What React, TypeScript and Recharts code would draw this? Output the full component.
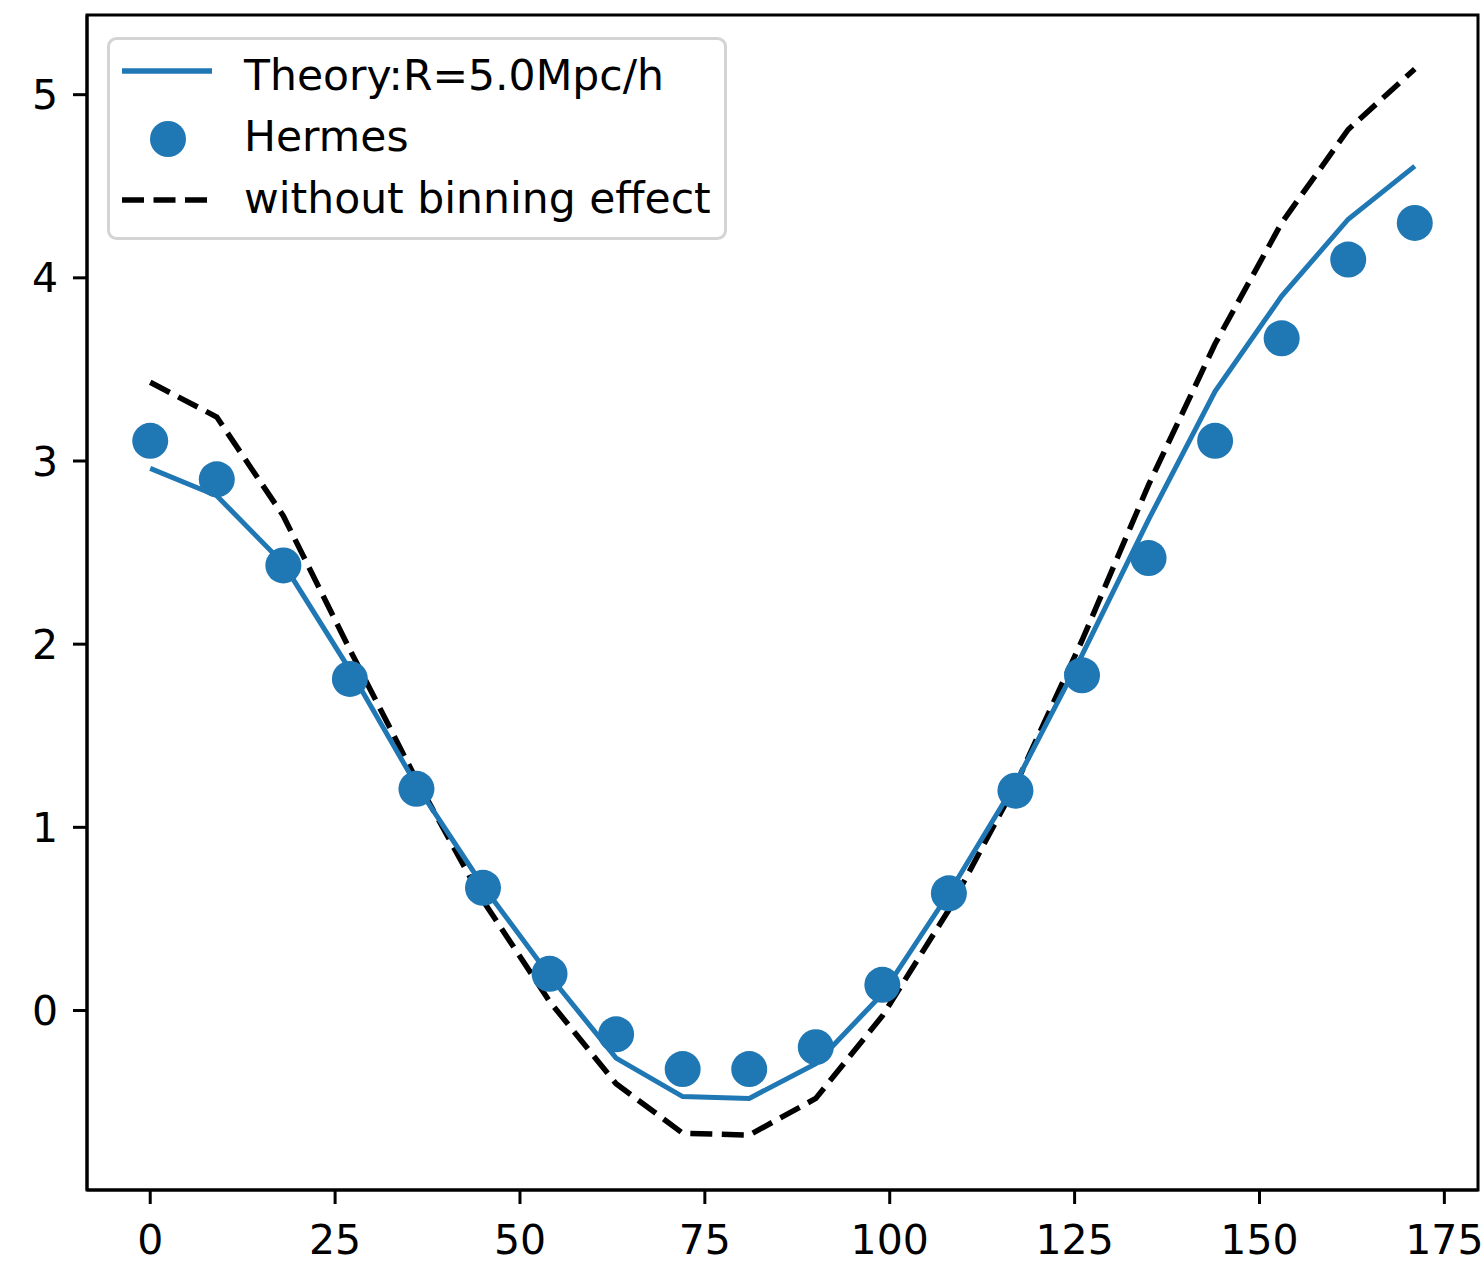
import { ComposedChart, Line, Scatter, XAxis, YAxis, ReferenceArea, Legend } from 'recharts';

const xValues = [0, 9, 18, 27, 36, 45, 54, 63, 72, 81, 90, 99, 108, 117, 126, 135, 144, 153, 162, 171];
const hermes = [3.11, 2.9, 2.43, 1.81, 1.21, 0.67, 0.2, -0.13, -0.32, -0.32, -0.2, 0.14, 0.64, 1.2, 1.83, 2.47, 3.11, 3.67, 4.1, 4.3];
const theory = [2.96, 2.81, 2.44, 1.86, 1.23, 0.68, 0.19, -0.26, -0.47, -0.48, -0.29, 0.09, 0.64, 1.24, 1.94, 2.68, 3.38, 3.9, 4.32, 4.61];
const noBinning = [3.43, 3.24, 2.7, 1.97, 1.26, 0.6, 0.05, -0.4, -0.67, -0.68, -0.48, -0.03, 0.55, 1.23, 2.02, 2.87, 3.64, 4.3, 4.81, 5.14];

const xTicks = [0, 25, 50, 75, 100, 125, 150, 175];
const yTicks = [0, 1, 2, 3, 4, 5];
const xDomain: [number, number] = [-8.55, 179.55];
const yDomain: [number, number] = [-0.98, 5.435];

const labels = {
  theory: 'Theory:R=5.0Mpc/h',
  hermes: 'Hermes',
  noBin: 'without binning effect',
};

const BLUE = '#1f77b4';
const FONT = '"DejaVu Sans", sans-serif';

const rows = xValues.map((x, i) => ({
  x,
  theory: theory[i],
  hermes: hermes[i],
  noBin: noBinning[i],
}));

function LegendBox() {
  return (
    <svg width={622} height={206} style={{ display: 'block', overflow: 'visible' }}>
      <rect x={1.5} y={1.5} width={617} height={200} rx={8} fill="#fff" fillOpacity={0.8} stroke="#d4d4d4" strokeWidth={3} />
      <line x1={15} x2={105} y1={34} y2={34} stroke={BLUE} strokeWidth={5.5} />
      <circle cx={61} cy={102} r={18} fill={BLUE} />
      <line x1={15} x2={105} y1={163} y2={163} stroke="#000" strokeWidth={5.5} strokeDasharray="22 9.5" />
      <g fontFamily={FONT} fontSize={42.5} fill="#000">
        <text x={137} y={53}>{labels.theory}</text>
        <text x={137} y={114}>{labels.hermes}</text>
        <text x={137} y={176}>{labels.noBin}</text>
      </g>
    </svg>
  );
}

const dot = (p: any) => <circle cx={p.cx} cy={p.cy} r={18} fill={BLUE} />;

export default function App() {
  const tickStyle = { fontFamily: FONT, fontSize: 41, fill: '#000' };
  return (
    <div style={{ position: 'absolute', left: 0, top: 0, background: '#fff' }}>
      <ComposedChart
        width={1481}
        height={1263}
        data={rows}
        margin={{ top: 15, right: 3, left: 0, bottom: 0 }}
      >
        <XAxis
          dataKey="x"
          type="number"
          domain={xDomain}
          ticks={xTicks}
          allowDataOverflow
          height={73}
          tick={tickStyle}
          tickSize={14}
          tickMargin={21}
          axisLine={{ stroke: '#000', strokeWidth: 3 }}
          tickLine={{ stroke: '#000', strokeWidth: 3 }}
        />
        <YAxis
          type="number"
          domain={yDomain}
          ticks={yTicks}
          allowDataOverflow
          width={87}
          tick={tickStyle}
          tickSize={14}
          tickMargin={15}
          axisLine={{ stroke: '#000', strokeWidth: 3 }}
          tickLine={{ stroke: '#000', strokeWidth: 3 }}
        />
        <ReferenceArea
          x1={xDomain[0]}
          x2={xDomain[1]}
          y1={yDomain[0]}
          y2={yDomain[1]}
          fill="none"
          stroke="#000"
          strokeWidth={3}
          ifOverflow="visible"
        />
        <Line
          dataKey="noBin"
          type="linear"
          stroke="#000"
          strokeWidth={5.5}
          strokeDasharray="22 9.5"
          dot={false}
          activeDot={false}
          isAnimationActive={false}
        />
        <Line
          dataKey="theory"
          type="linear"
          stroke={BLUE}
          strokeWidth={5}
          dot={false}
          activeDot={false}
          isAnimationActive={false}
        />
        <Scatter dataKey="hermes" fill={BLUE} shape={dot} isAnimationActive={false} />
        <Legend
          layout="horizontal"
          verticalAlign="middle"
          align="center"
          content={() => <LegendBox />}
          wrapperStyle={{ left: 107, top: 37, width: 622, height: 206 }}
        />
      </ComposedChart>
    </div>
  );
}
